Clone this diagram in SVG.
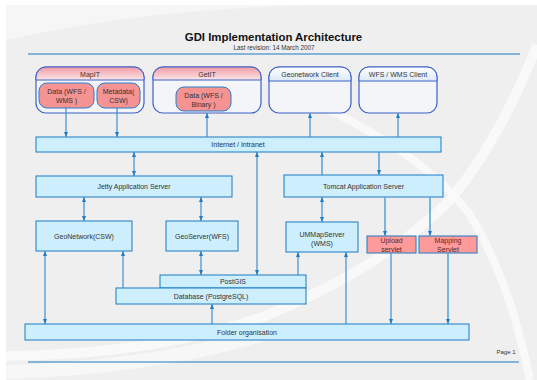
<svg xmlns="http://www.w3.org/2000/svg" width="537" height="380" viewBox="0 0 537 380">
<defs>
<linearGradient id="gp" x1="0" y1="0" x2="0" y2="1"><stop offset="0" stop-color="#f09aa4"/><stop offset="1" stop-color="#fbe6e8"/></linearGradient>
<linearGradient id="gb" x1="0" y1="0" x2="0" y2="1"><stop offset="0" stop-color="#ffffff"/><stop offset="1" stop-color="#dce8f8"/></linearGradient>
<marker id="a" viewBox="0 0 5 4" refX="5" refY="2" markerWidth="5" markerHeight="4" markerUnits="userSpaceOnUse" orient="auto-start-reverse"><path d="M0,0 L5,2 L0,4 Z" fill="#1f7dc6"/></marker>
</defs>
<style>
text{font-family:"Liberation Sans",Arial,sans-serif;fill:#333;font-size:7px;text-anchor:middle}
.box{fill:#cdeefd;stroke:#1a7cc4;stroke-width:1}
.pk{fill:#ff9a9a;stroke:#1a7cc4;stroke-width:1}
.outer{fill:#f4f5f9;stroke:#3c62c8;stroke-width:1.2}
.inner{fill:#f59292;stroke:#2a7fcc;stroke-width:1}
.hdr{stroke:#3c62c8;stroke-width:1}
.c line{stroke:#3a8fd2;stroke-width:1.2}
.c .t{stroke:#5aa6dc;stroke-width:1.6}
.rule{stroke:#1a7cc4;stroke-width:1.2}
</style>
<rect width="537" height="380" fill="#ffffff"/>
<rect x="6" y="5" width="531" height="375" fill="#efefef"/>
<g id="background" fill="none" stroke="#fbfbfb">
<path d="M6,40 Q150,8 320,5 L6,5 Z" fill="#f6f6f6" stroke="none"/>
<path d="M537,45 Q500,140 450,200 Q380,270 260,318 Q150,355 6,356" stroke-width="10" opacity="0.8"/>
<path d="M6,372 Q150,368 260,335" stroke-width="14" opacity="0.6"/>
<path d="M330,110 Q430,160 470,215 Q510,280 530,380" stroke-width="8" opacity="0.8"/>
</g>
<g id="title">
<text x="273.5" y="41" style="font-size:11.4px;font-weight:bold;fill:#111">GDI Implementation Architecture</text>
<text x="274" y="49.5" style="font-size:6.3px">Last revision: 14 March 2007</text>
<line class="rule" x1="28" y1="54" x2="520" y2="54"/>
<line class="rule" x1="28" y1="362" x2="519" y2="362"/>
<text x="506" y="354" style="font-size:6px">Page 1</text>
</g>
<g id="mapit">
<rect class="outer" x="36" y="67" width="108" height="46" rx="10"/>
<path class="hdr" d="M36,80 V77 A10,10 0 0 1 46,67 H134 A10,10 0 0 1 144,77 V80 Z" fill="url(#gp)"/>
<text x="90" y="77">MapIT</text>
<g id="mapit-data"><rect class="inner" x="39" y="83" width="55" height="25" rx="8"/><text x="66.5" y="94">Data (WFS /</text><text x="66.5" y="103">WMS )</text></g>
<g id="mapit-meta"><rect class="inner" x="97" y="83" width="43" height="25" rx="8"/><text x="118.5" y="94">Metadata(</text><text x="118.5" y="103">CSW)</text></g>
</g>
<g id="getit">
<rect class="outer" x="153" y="67" width="108" height="46" rx="10"/>
<path class="hdr" d="M153,80 V77 A10,10 0 0 1 163,67 H251 A10,10 0 0 1 261,77 V80 Z" fill="url(#gp)"/>
<text x="207" y="77">GetIT</text>
<g id="getit-data"><rect class="inner" x="176" y="87" width="55" height="24" rx="8"/><text x="203.5" y="97.5">Data (WFS /</text><text x="203.5" y="106.5">Binary )</text></g>
</g>
<g id="geonetwork-client">
<rect class="outer" x="269" y="67" width="82" height="46" rx="10"/>
<path class="hdr" d="M269,81 V77 A10,10 0 0 1 279,67 H341 A10,10 0 0 1 351,77 V81 Z" fill="url(#gb)"/>
<text x="310" y="77">Geonetwork Client</text>
</g>
<g id="wfs-wms-client">
<rect class="outer" x="359" y="67" width="78" height="46" rx="10"/>
<path class="hdr" d="M359,81 V77 A10,10 0 0 1 369,67 H427 A10,10 0 0 1 437,77 V81 Z" fill="url(#gb)"/>
<text x="398" y="77">WFS / WMS Client</text>
</g>
<g id="internet"><rect class="box" x="36" y="137" width="405" height="15"/><text x="238" y="147">Internet / Intranet</text></g>
<g id="jetty"><rect class="box" x="36" y="176" width="196" height="21"/><text x="134" y="189">Jetty Application Server</text></g>
<g id="tomcat"><rect class="box" x="284" y="175" width="159" height="22"/><text x="363.5" y="188.5">Tomcat Application Server</text></g>
<g id="geonetwork"><rect class="box" x="36" y="221" width="96" height="30"/><text x="84" y="239">GeoNetwork(CSW)</text></g>
<g id="geoserver"><rect class="box" x="166" y="221" width="72" height="30"/><text x="202" y="239">GeoServer(WFS)</text></g>
<g id="ummapserver"><rect class="box" x="286" y="222" width="72" height="30"/><text x="322" y="236.5">UMMapServer</text><text x="322" y="245.5">(WMS)</text></g>
<g id="upload"><rect class="pk" x="367" y="236" width="49" height="17"/><text x="391.5" y="243" style="fill:#552828">Upload</text><text x="391.5" y="251.5" style="fill:#552828">servlet</text></g>
<g id="mapping"><rect class="pk" x="419" y="236" width="58" height="17"/><text x="448" y="243" style="fill:#552828">Mapping</text><text x="448" y="251.5" style="fill:#552828">Servlet</text></g>
<g id="postgis"><rect class="box" x="160" y="275" width="146" height="13"/><text x="233" y="284">PostGIS</text></g>
<g id="database"><rect class="box" x="116" y="288" width="190" height="16"/><text x="211" y="298.5">Database (PostgreSQL)</text></g>
<g id="folder"><rect class="box" x="25" y="324" width="444" height="16"/><text x="247" y="334.5">Folder organisation</text></g>
<g id="connectors" class="c">
<line x1="66" y1="108" x2="66" y2="137" marker-end="url(#a)"/>
<line x1="117" y1="108" x2="117" y2="137" marker-end="url(#a)"/>
<line x1="207" y1="113" x2="207" y2="137" marker-start="url(#a)"/>
<line x1="310" y1="113" x2="310" y2="137" marker-start="url(#a)"/>
<line x1="398" y1="113" x2="398" y2="137" marker-start="url(#a)"/>
<line x1="134" y1="152" x2="134" y2="176" marker-start="url(#a)" marker-end="url(#a)"/>
<line x1="257" y1="152" x2="257" y2="275" marker-start="url(#a)" marker-end="url(#a)"/>
<line x1="84" y1="197" x2="84" y2="221" marker-start="url(#a)" marker-end="url(#a)"/>
<line x1="201" y1="197" x2="201" y2="221" marker-start="url(#a)" marker-end="url(#a)"/>
<line class="t" x1="322" y1="152" x2="322" y2="175" marker-start="url(#a)"/>
<line class="t" x1="379" y1="152" x2="379" y2="175" marker-end="url(#a)"/>
<line x1="322" y1="197" x2="322" y2="222" marker-start="url(#a)" marker-end="url(#a)"/>
<line class="t" x1="385" y1="197" x2="385" y2="236" marker-end="url(#a)"/>
<line class="t" x1="430" y1="197" x2="430" y2="236" marker-end="url(#a)"/>
<line x1="45" y1="251" x2="45" y2="324" marker-start="url(#a)" marker-end="url(#a)"/>
<line x1="123" y1="251" x2="123" y2="288" marker-start="url(#a)"/>
<line x1="201" y1="251" x2="201" y2="275" marker-start="url(#a)" marker-end="url(#a)"/>
<line x1="212" y1="304" x2="212" y2="324" marker-start="url(#a)"/>
<line x1="298" y1="252" x2="298" y2="275" marker-start="url(#a)"/>
<line x1="346" y1="252" x2="346" y2="324" marker-start="url(#a)"/>
<line x1="391" y1="253" x2="391" y2="324" marker-end="url(#a)"/>
<line class="t" x1="448" y1="253" x2="448" y2="324" marker-end="url(#a)"/>
</g>
</svg>
